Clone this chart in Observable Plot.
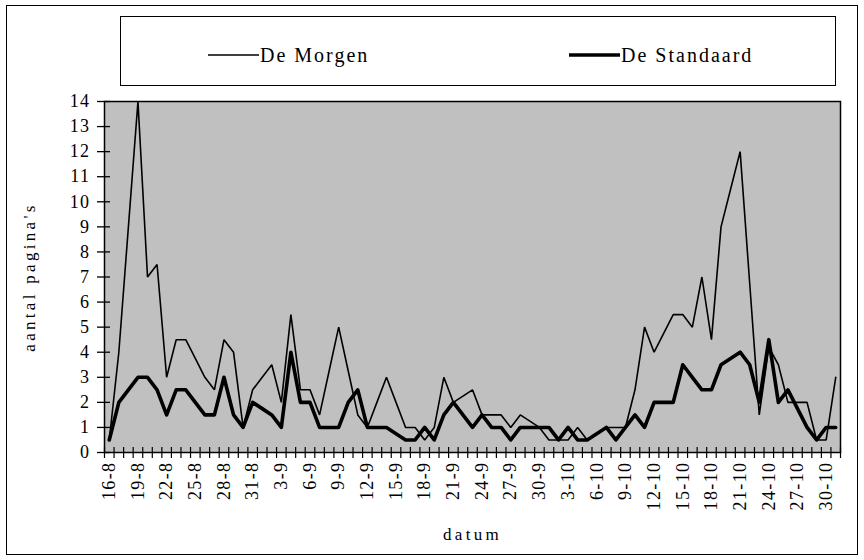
<!DOCTYPE html>
<html>
<head>
<meta charset="utf-8">
<script src="https://cdn.jsdelivr.net/npm/d3@7"></script>
<script src="https://cdn.jsdelivr.net/npm/@observablehq/plot@0.6"></script>
<style>
  body { margin: 0; background: #fff; }
  #wrap { position: relative; width: 864px; height: 560px; font-family: "Liberation Serif", "Times New Roman", serif; }
  #outer { position: absolute; left: 6px; top: 5px; width: 852px; height: 550px; border: 1.5px solid #000; box-sizing: border-box; pointer-events: none; }
  #chart { position: absolute; left: 0; top: 0; }
  #legend { position: absolute; left: 120px; top: 16px; width: 716px; height: 70px; border: 1px solid #000; box-sizing: border-box; background: #fff; }
  .item { position: absolute; top: 0; height: 70px; padding-top: 6px; box-sizing: border-box; display: flex; align-items: center; font-size: 20px; letter-spacing: 2px; color: #000; }
  .item svg { display: block; margin-right: 1px; }
</style>
</head>
<body>
<div id="wrap">
  <div id="chart"></div>
  <div id="legend"></div>
  <div id="outer"></div>
</div>
<script>
// Categories: one per day, 16 August to 31 October
const dates = [
  "16-8","17-8","18-8","19-8","20-8","21-8","22-8","23-8","24-8","25-8","26-8","27-8","28-8","29-8","30-8","31-8",
  "1-9","2-9","3-9","4-9","5-9","6-9","7-9","8-9","9-9","10-9","11-9","12-9","13-9","14-9","15-9","16-9","17-9","18-9","19-9","20-9",
  "21-9","22-9","23-9","24-9","25-9","26-9","27-9","28-9","29-9","30-9",
  "1-10","2-10","3-10","4-10","5-10","6-10","7-10","8-10","9-10","10-10","11-10","12-10","13-10","14-10","15-10","16-10","17-10","18-10",
  "19-10","20-10","21-10","22-10","23-10","24-10","25-10","26-10","27-10","28-10","29-10","30-10","31-10"
];

// Series values (aantal pagina's)
const deMorgen = [
  0.5, 4, 9, 14, 7, 7.5, 3, 4.5, 4.5, 3.75, 3, 2.5, 4.5, 4, 1, 2.5,
  3, 3.5, 2, 5.5, 2.5, 2.5, 1.5, 3.25, 5, 3.25, 1.5, 1, 2, 3, 2, 1, 1, 0.5, 1, 3,
  2, 2.25, 2.5, 1.5, 1.5, 1.5, 1, 1.5, 1.25, 1,
  0.5, 0.5, 0.5, 1, 0.5, 0.75, 1, 1, 1, 2.5, 5, 4, 4.75, 5.5, 5.5, 5, 7, 4.5,
  9, 10.5, 12, 6.75, 1.5, 4.2, 3.5, 2, 2, 2, 0.5, 0.5, 3
];
const deStandaard = [
  0.5, 2, 2.5, 3, 3, 2.5, 1.5, 2.5, 2.5, 2, 1.5, 1.5, 3, 1.5, 1, 2,
  1.75, 1.5, 1, 4, 2, 2, 1, 1, 1, 2, 2.5, 1, 1, 1, 0.75, 0.5, 0.5, 1, 0.5, 1.5,
  2, 1.5, 1, 1.5, 1, 1, 0.5, 1, 1, 1,
  1, 0.5, 1, 0.5, 0.5, 0.75, 1, 0.5, 1, 1.5, 1, 2, 2, 2, 3.5, 3, 2.5, 2.5,
  3.5, 3.75, 4, 3.5, 2, 4.5, 2, 2.5, 1.75, 1, 0.5, 1, 1
];
const seriesNames = ["De Morgen", "De Standaard"];
const yTicks = [0,1,2,3,4,5,6,7,8,9,10,11,12,13,14];
const labelEvery = 3;

const rowsM = deMorgen.map((v, i) => ({i, v}));
const rowsS = deStandaard.map((v, i) => ({i, v}));
const n = dates.length;
const boundaries = d3.range(n + 1).map(k => k - 0.5);
const labelIdx = d3.range(0, n, labelEvery);

const chart = Plot.plot({
  width: 864,
  height: 560,
  marginLeft: 104,
  marginRight: 24,
  marginTop: 101,
  marginBottom: 108,
  style: {fontFamily: "'Liberation Serif', 'Times New Roman', serif", fontSize: "18px", background: "transparent", color: "#000", overflow: "visible"},
  x: {type: "linear", domain: [-0.5, n - 0.5]},
  y: {domain: [0, 14]},
  marks: [
    Plot.frame({fill: "#c0c0c0", stroke: "none"}),
    Plot.line(rowsM, {x: "i", y: "v", stroke: "#000", strokeWidth: 1.6, strokeLinejoin: "miter"}),
    Plot.line(rowsS, {x: "i", y: "v", stroke: "#000", strokeWidth: 3.6, strokeLinejoin: "round"}),
    Plot.frame({stroke: "#000", strokeWidth: 1.5}),
    Plot.axisY({ticks: yTicks, tickSize: 13, dx: 6, tickFormat: () => "", label: null, strokeWidth: 1.3}),
    Plot.axisY({ticks: yTicks, tickSize: 0, tickPadding: 14, label: null, fontSize: 18, tickFormat: d => String(d), className: "ticklab"}),
    Plot.axisX({ticks: boundaries, tickSize: 11, dy: -5, tickFormat: () => "", label: null, strokeWidth: 1.2}),
    Plot.axisX({ticks: labelIdx, tickSize: 0, tickPadding: 9, tickRotate: -90, tickFormat: i => dates[i], label: null, fontSize: 18, className: "ticklab"}),
    Plot.text(["aantal pagina's"], {frameAnchor: "left", dx: -75, rotate: -90, textAnchor: "middle", text: d => d, fontSize: 17, className: "title"}),
    Plot.text(["datum"], {frameAnchor: "bottom", dy: 87, textAnchor: "middle", text: d => d, fontSize: 17, className: "title"})
  ]
});
chart.querySelectorAll(".ticklab text").forEach(t => t.setAttribute("letter-spacing", "1.4"));
chart.querySelectorAll(".title text").forEach(t => t.setAttribute("letter-spacing", "3.3"));
document.getElementById("chart").appendChild(chart);

// Legend
const legend = document.getElementById("legend");
const swatches = [
  {name: seriesNames[0], width: 1.6, left: 87},
  {name: seriesNames[1], width: 3.6, left: 448}
];
swatches.forEach(s => {
  const div = document.createElement("div");
  div.className = "item";
  div.style.left = s.left + "px";
  const svg = d3.create("svg").attr("width", 51).attr("height", 10);
  svg.append("line").attr("x1", 0).attr("x2", 51).attr("y1", 5).attr("y2", 5).attr("stroke", "#000").attr("stroke-width", s.width);
  div.appendChild(svg.node());
  const span = document.createElement("span");
  span.textContent = s.name;
  div.appendChild(span);
  legend.appendChild(div);
});
</script>
</body>
</html>
